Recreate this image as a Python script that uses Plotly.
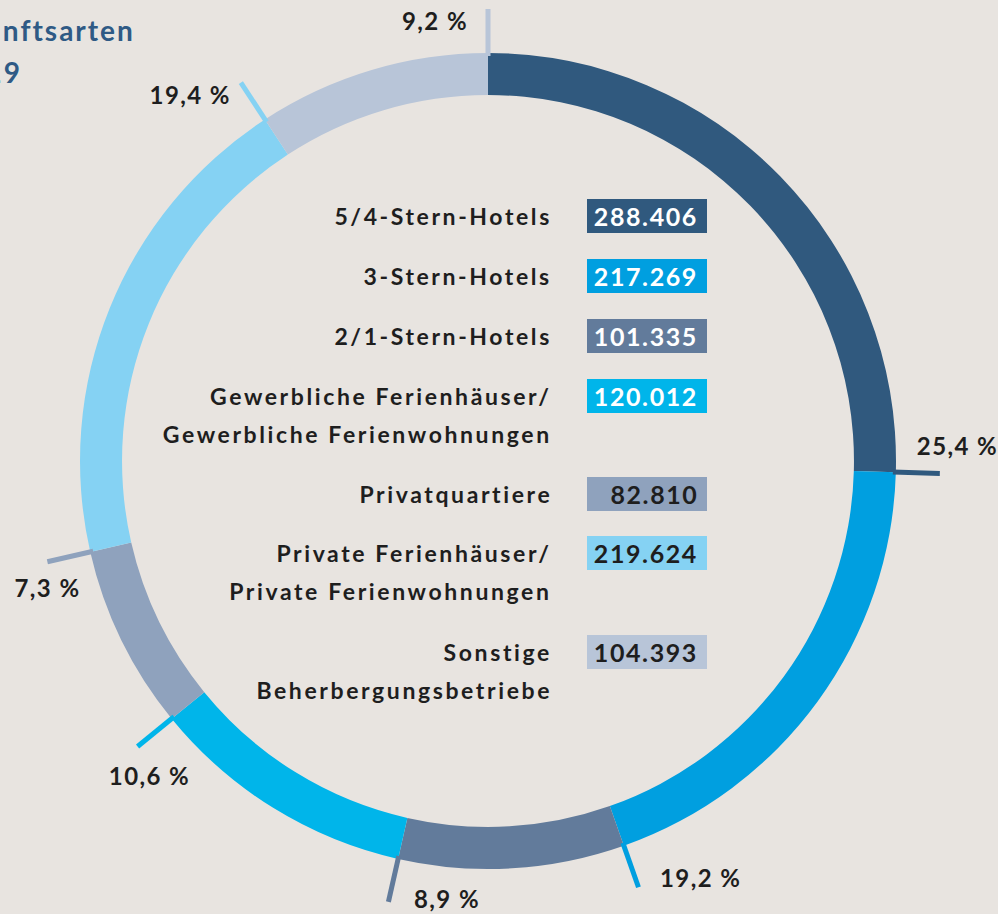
import math
import plotly.graph_objects as go

categories = [
    "5/4-Stern-Hotels",
    "3-Stern-Hotels",
    "2/1-Stern-Hotels",
    "Gewerbliche Ferienhäuser/<br>Gewerbliche Ferienwohnungen",
    "Privatquartiere",
    "Private Ferienhäuser/<br>Private Ferienwohnungen",
    "Sonstige<br>Beherbergungsbetriebe",
]
values = [288406, 217269, 101335, 120012, 82810, 219624, 104393]
value_labels = ["288.406", "217.269", "101.335", "120.012", "82.810", "219.624", "104.393"]
pct_labels = ["25,4 %", "19,2 %", "8,9 %", "10,6 %", "7,3 %", "19,4 %", "9,2 %"]
title_lines = ["Übernachtungen nach Unterkunftsarten", "2019"]

colors = ["#30597E", "#009FE0", "#627B9B", "#00B5EA", "#8FA2BD", "#85D2F3", "#B8C5D8"]
value_text_colors = ["white", "white", "white", "white", "#1e1e1e", "#1e1e1e", "#1e1e1e"]
BG = "#E8E4E0"
DARK = "#1e1e1e"
W, H = 998, 914
CX, CY, R = 488, 461, 408

def px(x):
    return x / W

def py(y):
    return 1 - y / H

fig = go.Figure()
fig.add_trace(go.Pie(
    values=values,
    labels=[c.replace("<br>", " ") for c in categories],
    sort=False,
    direction="clockwise",
    rotation=0,
    hole=0.897,
    textinfo="none",
    hoverinfo="skip",
    marker=dict(colors=colors, line=dict(width=0)),
    domain=dict(x=[px(CX - R), px(CX + R)], y=[py(CY + R), py(CY - R)]),
    showlegend=False,
))

shapes = []
annotations = []

# leader lines at the end boundary of each segment
total = sum(values)
cum = 0
# label offsets (dx, dy, xanchor) relative to line end, in pixels
label_style = [
    (18, -28, "center"),
    (20, -10, "left"),
    (24, -3, "left"),
    (12, 29, "center"),
    (0, 26, "center"),
    (-8, 12, "right"),
    (-18, 12, "right"),
]
for i, v in enumerate(values):
    cum += v
    th = 2 * math.pi * cum / total
    r0, r1 = R - 3, R + 44
    x0, y0 = CX + r0 * math.sin(th), CY - r0 * math.cos(th)
    x1, y1 = CX + r1 * math.sin(th), CY - r1 * math.cos(th)
    shapes.append(dict(type="line", xref="paper", yref="paper",
                       x0=px(x0), y0=py(y0), x1=px(x1), y1=py(y1),
                       line=dict(color=colors[i], width=5)))
    dx, dy, xa = label_style[i]
    annotations.append(dict(x=px(x1 + dx), y=py(y1 + dy), xref="paper", yref="paper",
                            text=pct_labels[i], showarrow=False, xanchor=xa, yanchor="middle",
                            align=xa,
                            font=dict(family="Lato", size=24, color=DARK, weight="bold")))

# central legend
box_y = [216, 276, 336, 396, 494, 553, 652]
LINE_GAP = 38
for i, cat in enumerate(categories):
    yc = box_y[i]
    shapes.append(dict(type="rect", xref="paper", yref="paper",
                       x0=px(587), x1=px(707), y0=py(yc + 17), y1=py(yc - 17),
                       fillcolor=colors[i], line=dict(width=0)))
    annotations.append(dict(x=px(700), y=py(yc), xref="paper", yref="paper",
                            text=value_labels[i], showarrow=False, xanchor="right", yanchor="middle",
                            align="right",
                            font=dict(family="Lato", size=25, color=value_text_colors[i], weight="bold")))
    for j, line in enumerate(cat.split("<br>")):
        annotations.append(dict(x=px(554), y=py(yc + j * LINE_GAP), xref="paper", yref="paper",
                                text=line, showarrow=False, xanchor="right", yanchor="middle",
                                align="right",
                                font=dict(family="Lato", size=23, color=DARK, weight="bold")))

# title (cut off at left edge, as in the source)
annotations.append(dict(x=px(137), y=py(30), xref="paper", yref="paper",
                        text=title_lines[0], showarrow=False,
                        xanchor="right", yanchor="middle", align="right",
                        font=dict(family="Lato", size=28, color="#2F5A85", weight="bold")))
annotations.append(dict(x=px(24), y=py(72), xref="paper", yref="paper",
                        text=title_lines[1], showarrow=False,
                        xanchor="right", yanchor="middle", align="right",
                        font=dict(family="Lato", size=28, color="#2F5A85", weight="bold")))

fig.update_layout(
    width=W, height=H,
    margin=dict(l=0, r=0, t=0, b=0),
    paper_bgcolor=BG, plot_bgcolor=BG,
    shapes=shapes, annotations=annotations,
)

post = """
document.body.style.margin = '0';
document.body.style.background = '%s';
var spacing = {23: 2.6, 25: 1.6, 24: 1.4, 28: 2.0};
document.querySelectorAll('text.annotation-text').forEach(function(el) {
    var fs = Math.round(parseFloat(el.style.fontSize));
    if (spacing[fs] !== undefined) { el.style.letterSpacing = spacing[fs] + 'px'; }
});
""" % BG
fig.write_html("out.html", post_script=post, config={"displayModeBar": False})
